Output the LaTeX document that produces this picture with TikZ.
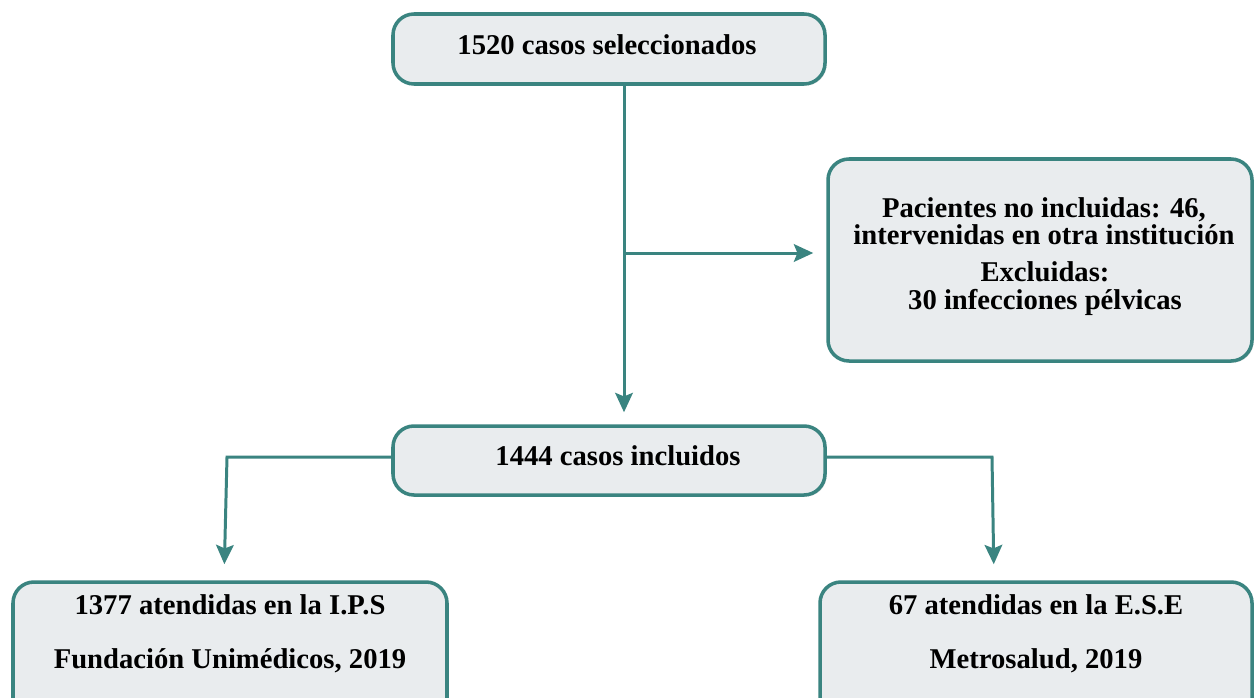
\documentclass[tikz,border=0pt]{standalone}
\usepackage{fontspec}
\setmainfont{Liberation Serif}
\usetikzlibrary{arrows.meta,fit,shadows,calc}
\definecolor{teal1}{RGB}{58,132,128}
\definecolor{boxfill}{RGB}{233,236,238}
\tikzset{
  box/.style={draw=teal1, fill=boxfill, line width=2pt, rounded corners=0.42cm, inner sep=0pt,
    drop shadow={shadow xshift=0.9pt, shadow yshift=-0.9pt, opacity=0.25}},
  conn/.style={draw=teal1, line width=1.7pt, -{Stealth[length=11pt,width=10pt,inset=2pt]}},
  txt/.style={anchor=base, inner sep=0pt, font=\fontsize{16.3}{18}\selectfont\bfseries}
}
\begin{document}
\begin{tikzpicture}[x=0.02cm,y=-0.02cm]
\useasboundingbox[fill=white] (0,0) rectangle (1254,697);
% boxes
\node[box, fit={(393,14) (825,84)}] (top) {};
\node[box, fit={(828,159) (1252,361)}] (excl) {};
\node[box, fit={(393,426) (825,495)}] (mid) {};
\node[box, fit={(13,582) (447,730)}] (bl) {};
\node[box, fit={(820,582) (1252,730)}] (br) {};
% texts
\node[txt] (t1) at (607,54) {1520 casos seleccionados};
\node[txt] (e1) at (1044,217) {Pacientes no incluidas: 46,};
\node[txt] (e2) at (1044,244) {intervenidas en otra institución};
\node[txt] (e3) at (1045,281) {Excluidas:};
\node[txt] (e4) at (1045,309) {30 infecciones pélvicas};
\node[txt] (m1) at (618,465) {1444 casos incluidos};
\node[txt] (l1) at (230,614) {1377 atendidas en la I.P.S};
\node[txt] (l2) at (230,668) {Fundación Unimédicos, 2019};
\node[txt] (r1) at (1036,614) {67 atendidas en la E.S.E};
\node[txt] (r2) at (1036,668) {Metrosalud, 2019};
% connector coordinates
\coordinate (vx) at (624,0);
\coordinate (branch) at (624,253);
\coordinate (lk) at (227,457);
\coordinate (lx) at (224,0);
\coordinate (rk) at (992,457);
\coordinate (rx) at (994,0);
% connectors
\draw[conn, shorten >=0.24cm] (top.south -| vx) -- (mid.north -| vx);
\draw[conn, shorten >=0.26cm] (branch) -- (branch -| excl.west);
\draw[conn, shorten >=0.32cm] (mid.west |- lk) -- (lk) -- (bl.north -| lx);
\draw[conn, shorten >=0.32cm] (mid.east |- rk) -- (rk) -- (br.north -| rx);
\end{tikzpicture}
\end{document}
